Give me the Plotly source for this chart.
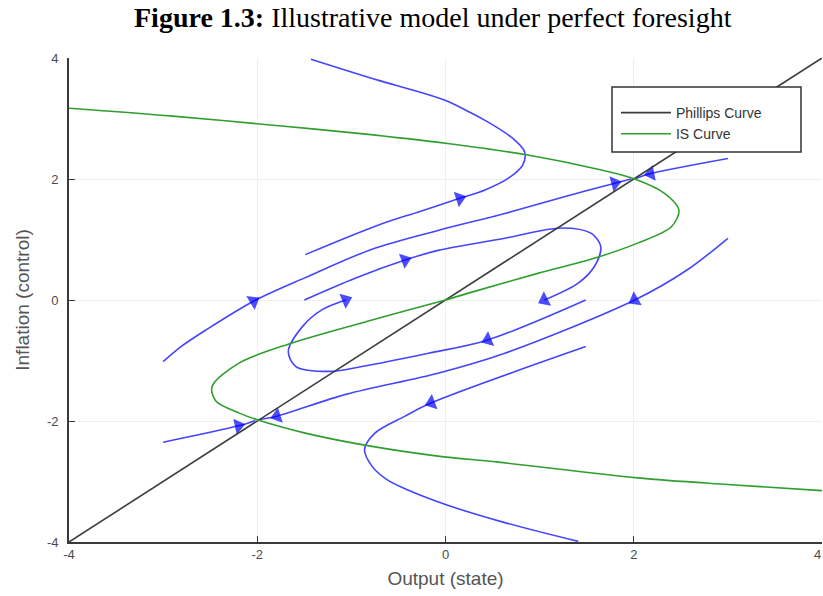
import plotly.graph_objects as go

# ---------------- data ----------------
phillips_x = [-4, 4]
phillips_y = [-4, 4]

is_x = [-4.0, -2.9, -1.77, -0.9, 0.0, 0.86, 1.62, 2.01, 2.33, 2.48, 2.40, 2.04, 1.58, 0.98, 0.28, 0.0,
        -0.78, -1.63, -2.19, -2.48, -2.44, -2.19, -2.0, -1.49, -0.78, -0.08, 0.56, 2.04, 3.0, 4.0]
is_y = [3.17, 3.04, 2.88, 2.75, 2.59, 2.40, 2.16, 2.0, 1.76, 1.49, 1.21, 0.94, 0.69, 0.44, 0.13, 0.0,
        -0.33, -0.71, -1.04, -1.43, -1.67, -1.87, -1.98, -2.20, -2.42, -2.58, -2.68, -2.94, -3.05, -3.15]

# trajectories (in the order of travel); arrows = indices of points carrying an arrow
traj_a_x = [-1.49, -0.71, -0.28, 0.15, 0.42, 0.665, 0.82, 0.84, 0.70, 0.42, 0.20, -0.005, -0.35, -0.71, -1.43]
traj_a_y = [0.75, 1.24, 1.46, 1.68, 1.82, 2.01, 2.23, 2.45, 2.69, 2.97, 3.15, 3.30, 3.47, 3.63, 3.98]
traj_a_arrows = [3]

traj_b_x = [-3.00, -2.80, -2.55, -2.04, -1.49, -0.78, -0.08, 0.63, 1.34, 1.80, 1.97]
traj_b_y = [-1.02, -0.76, -0.50, -0.02, 0.37, 0.84, 1.15, 1.43, 1.74, 1.93, 2.0]
traj_b_arrows = [3, 9]

traj_c_x = [3.0, 2.18, 2.02]
traj_c_y = [2.34, 2.09, 2.01]
traj_c_arrows = [1]

traj_d_x = [-1.50, -0.96, -0.43, -0.08, 0.63, 1.23, 1.55, 1.65, 1.58, 1.41, 1.05]
traj_d_y = [0.0, 0.36, 0.66, 0.82, 1.02, 1.19, 1.10, 0.88, 0.55, 0.28, 0.0]
traj_d_arrows = [2, 10]

traj_e_x = [1.49, 0.45, -0.18, -0.89, -1.24, -1.59, -1.67, -1.52, -1.31, -1.06]
traj_e_y = [0.0, -0.66, -0.88, -1.10, -1.18, -1.10, -0.85, -0.44, -0.16, 0.0]
traj_e_arrows = [1, 9]

traj_f_x = [3.0, 2.57, 2.01, 0.63, -0.08, -1.06, -1.79, -2.0]
traj_f_y = [1.02, 0.50, 0.0, -0.88, -1.21, -1.56, -1.92, -1.98]
traj_f_arrows = [2, 6]

traj_g_x = [1.49, -0.15, -0.43, -0.75, -0.86, -0.78, -0.63, -0.43, 0.0, 0.63, 1.41]
traj_g_y = [-0.77, -1.70, -1.92, -2.20, -2.47, -2.75, -2.96, -3.12, -3.38, -3.68, -3.99]
traj_g_arrows = [1]

traj_h_x = [-3.0, -2.20, -2.02]
traj_h_y = [-2.35, -2.08, -1.99]
traj_h_arrows = [1]

tick_vals = [-4, -2, 0, 2, 4]
tick_text = ["-4", "-2", "0", "2", "4"]

title_bold = "Figure 1.3:"
title_rest = "Illustrative model under perfect foresight"
x_title = "Output (state)"
y_title = "Inflation (control)"

# ---------------- figure ----------------
fig = go.Figure()

trajectories = [
    (traj_a_x, traj_a_y, traj_a_arrows),
    (traj_b_x, traj_b_y, traj_b_arrows),
    (traj_c_x, traj_c_y, traj_c_arrows),
    (traj_d_x, traj_d_y, traj_d_arrows),
    (traj_e_x, traj_e_y, traj_e_arrows),
    (traj_f_x, traj_f_y, traj_f_arrows),
    (traj_g_x, traj_g_y, traj_g_arrows),
    (traj_h_x, traj_h_y, traj_h_arrows),
]

for tx, ty, arr in trajectories:
    sizes = [14 if i in arr else 0 for i in range(len(tx))]
    fig.add_trace(go.Scatter(
        x=tx, y=ty, mode="lines+markers",
        line=dict(color="#4545ff", width=1.6, shape="spline", smoothing=0.9),
        marker=dict(symbol="triangle-up", size=sizes, color="#0000ff",
                    angleref="previous", line=dict(width=0)),
        showlegend=False, hoverinfo="skip"))

fig.add_trace(go.Scatter(
    x=phillips_x, y=phillips_y, mode="lines", name="Phillips Curve",
    line=dict(color="#3c3c3c", width=1.6), hoverinfo="skip"))

fig.add_trace(go.Scatter(
    x=is_x, y=is_y, mode="lines", name="IS Curve",
    line=dict(color="#2f9e2f", width=1.6, shape="spline", smoothing=0.9),
    hoverinfo="skip"))

tick_font = dict(family="Liberation Sans, Arial, sans-serif", size=13, color="#4a4a4a")
axis_common = dict(
    range=[-4, 4], tickvals=tick_vals, ticktext=tick_text,
    showgrid=True, gridcolor="#efefef", gridwidth=1,
    showline=True, linecolor="#3a3a3a", linewidth=1.6,
    ticks="inside", ticklen=6, tickcolor="#3a3a3a", tickwidth=1.4,
    tickfont=tick_font, zeroline=False, fixedrange=True,
)

fig.update_layout(
    width=823, height=596,
    margin=dict(l=69, r=1, t=58, b=54, pad=0),
    paper_bgcolor="white", plot_bgcolor="white",
    xaxis=dict(**axis_common,
               title=dict(text=x_title, standoff=10,
                          font=dict(family="Liberation Sans, Arial, sans-serif", size=19, color="#555555"))),
    yaxis=dict(**axis_common, ticklabelstandoff=6,
               title=dict(text=y_title, standoff=12,
                          font=dict(family="Liberation Sans, Arial, sans-serif", size=19, color="#555555"))),
    legend=dict(x=0.7264, y=0.9194, xanchor="left", yanchor="top",
                bgcolor="rgba(0,0,0,0)", borderwidth=0, itemwidth=50,
                font=dict(family="Liberation Sans, Arial, sans-serif", size=14, color="#333333")),
    shapes=[dict(type="rect", xref="paper", yref="paper",
                 x0=0.7211, x1=0.9721, y0=0.8058, y1=0.9401,
                 line=dict(color="#333333", width=1.5), fillcolor="white", layer="above")],
    annotations=[
        dict(text="<b>" + title_bold + "</b> " + title_rest,
             xref="paper", yref="paper", x=0.4834, y=1.0847,
             xanchor="center", yanchor="middle", showarrow=False,
             font=dict(family="Liberation Serif, Times New Roman, serif", size=28, color="black")),
        dict(text=tick_text[-1], xref="x", yref="paper", x=tick_vals[-1], y=0,
             xanchor="right", yanchor="top", xshift=1, yshift=-3, showarrow=False, font=tick_font),
    ],
    hovermode=False,
)

fig.write_html("out.html")
